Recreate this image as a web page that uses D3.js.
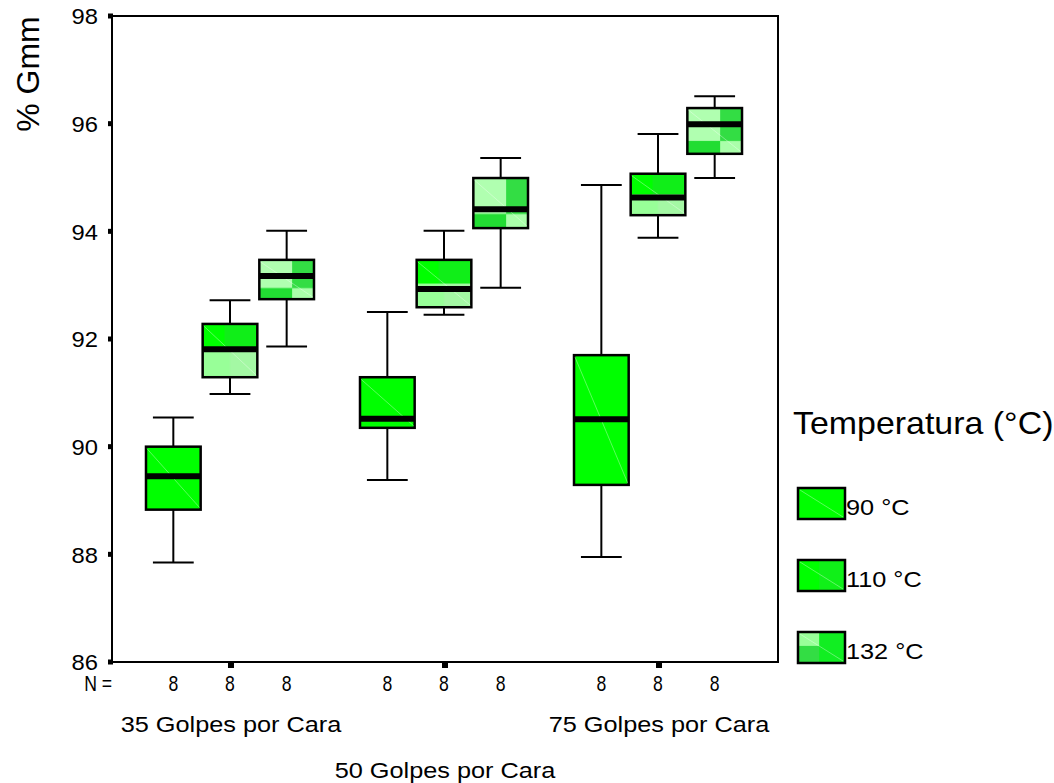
<!DOCTYPE html>
<html>
<head>
<meta charset="utf-8">
<script src="https://cdn.jsdelivr.net/npm/d3@7"></script>
<style>
  body { margin: 0; background: #fff; }
  svg { font-family: "Liberation Sans", Arial, sans-serif; }
</style>
</head>
<body>
<svg id="chart" width="1054" height="783"></svg>
<script>
// data
const groups = ["35 Golpes por Cara", "50 Golpes por Cara", "75 Golpes por Cara"];
const temps = ["90 °C", "110 °C", "132 °C"];
const yTicks = [86, 88, 90, 92, 94, 96, 98];
const counts = [8, 8, 8, 8, 8, 8, 8, 8, 8];

// [whiskerLow, q1, median, q3, whiskerHigh] per group, per temperature
const stats35 = [
    [87.85, 88.83, 89.45, 90.00, 90.54],
    [90.98, 91.29, 91.81, 92.28, 92.72],
    [91.86, 92.74, 93.17, 93.47, 94.01]
];
const stats50 = [
    [89.38, 90.35, 90.52, 91.29, 92.50],
    [92.45, 92.59, 92.93, 93.47, 94.01],
    [92.95, 94.06, 94.41, 94.99, 95.36]
];
const stats75 = [
    [87.95, 89.29, 90.51, 91.70, 94.86],
    [93.88, 94.30, 94.63, 95.07, 95.81],
    [94.99, 95.44, 95.99, 96.29, 96.51]
];

const boxes = [];
[stats35, stats50, stats75].forEach((g, gi) => {
    g.forEach((s, ti) => {
        boxes.push({ group: groups[gi], temp: temps[ti], ti, lo: s[0], q1: s[1], med: s[2], q3: s[3], hi: s[4] });
    });
});

const svg = d3.select("#chart");
const plot = { left: 112, right: 778, top: 16, bottom: 662 };

const y = d3.scaleLinear().domain([86, 98]).range([plot.bottom, plot.top]);
const x = d3.scalePoint().domain(groups).range([plot.left, plot.right]).padding(0.556);
const xInner = d3.scaleBand().domain(temps).range([-86, 84]).padding(0);
const bw = xInner.bandwidth();

// text in the original is stretched sideways
function stretched(sel, px, py, sx) {
    return sel.append("text")
        .attr("transform", `translate(${px},${py}) scale(${sx},1)`);
}

// fills
const defs = svg.append("defs");
const patterns = [
    { id: "p90", rects: [[0, 0, 1, 1, "#00ff00"]] },
    { id: "p110", rects: [[0, 0, 1, 1, "#00ff00"], [0.4, 0, 0.6, 0.5, "#10ee18"], [0, 0.5, 1, 0.5, "#98ff98"], [0.5, 0.5, 0.5, 0.5, "#a4f8a4"]] },
    { id: "p132", rects: [[0, 0, 1, 1, "#33dd44"], [0, 0, 0.6, 0.72, "#b0ffb0"], [0.6, 0.72, 0.4, 0.28, "#aaffaa"], [0, 0.72, 0.6, 0.28, "#22dd33"]] },
    { id: "l110", rects: [[0, 0, 1, 1, "#00ff00"], [0.45, 0, 0.55, 1, "#10f018"]] },
    { id: "l132", rects: [[0, 0, 1, 1, "#11ee22"], [0, 0, 0.45, 0.45, "#99ff99"], [0, 0.45, 0.45, 0.55, "#33dd44"]] }
];
patterns.forEach(p => {
    const pat = defs.append("pattern")
        .attr("id", p.id)
        .attr("patternUnits", "objectBoundingBox")
        .attr("patternContentUnits", "objectBoundingBox")
        .attr("width", 1).attr("height", 1);
    p.rects.forEach(r => {
        pat.append("rect").attr("x", r[0]).attr("y", r[1]).attr("width", r[2]).attr("height", r[3]).attr("fill", r[4]);
    });
});
const boxFill = ["url(#p90)", "url(#p110)", "url(#p132)"];
const legendFill = ["url(#p90)", "url(#l110)", "url(#l132)"];

// frame
svg.append("rect")
    .attr("x", plot.left).attr("y", plot.top)
    .attr("width", plot.right - plot.left).attr("height", plot.bottom - plot.top)
    .attr("fill", "none").attr("stroke", "#000").attr("stroke-width", 2);

// y axis
const yAxis = svg.append("g")
    .attr("transform", `translate(${plot.left},0)`)
    .call(d3.axisLeft(y).tickValues(yTicks).tickSize(0).tickPadding(13));
yAxis.select(".domain").remove();
yAxis.selectAll("text")
    .attr("font-size", 22).attr("fill", "#000")
    .attr("font-family", "Liberation Sans, Arial, sans-serif")
    .attr("dy", "0.36em")
    .attr("transform", "scale(1.08,1)");
svg.selectAll(".ytick").data(yTicks).enter().append("rect")
    .attr("x", plot.left - 4).attr("y", d => y(d) - 2.5)
    .attr("width", 5).attr("height", 5).attr("fill", "#000");

svg.append("text")
    .attr("transform", `translate(39,${74}) rotate(-90)`)
    .attr("text-anchor", "middle")
    .attr("font-size", 32)
    .text("% Gmm");

// x axis ticks (squares)
svg.selectAll(".xtick").data(groups).enter().append("rect")
    .attr("x", d => x(d) - 3).attr("y", plot.bottom)
    .attr("width", 6).attr("height", 6).attr("fill", "#000");

// boxes
const bx = d => x(d.group) + xInner(d.temp);
const cx = d => bx(d) + bw / 2;
const capW = bw * 0.72;

const g = svg.append("g");
const box = g.selectAll(".box").data(boxes).enter().append("g").attr("class", "box");

box.append("line")
    .attr("x1", cx).attr("x2", cx)
    .attr("y1", d => y(d.hi)).attr("y2", d => y(d.q3))
    .attr("stroke", "#000").attr("stroke-width", 2);
box.append("line")
    .attr("x1", cx).attr("x2", cx)
    .attr("y1", d => y(d.q1)).attr("y2", d => y(d.lo))
    .attr("stroke", "#000").attr("stroke-width", 2);
box.append("line")
    .attr("x1", d => cx(d) - capW / 2).attr("x2", d => cx(d) + capW / 2)
    .attr("y1", d => y(d.hi)).attr("y2", d => y(d.hi))
    .attr("stroke", "#000").attr("stroke-width", 2);
box.append("line")
    .attr("x1", d => cx(d) - capW / 2).attr("x2", d => cx(d) + capW / 2)
    .attr("y1", d => y(d.lo)).attr("y2", d => y(d.lo))
    .attr("stroke", "#000").attr("stroke-width", 2);
box.append("rect")
    .attr("x", d => bx(d) + 1).attr("y", d => y(d.q3))
    .attr("width", bw - 2).attr("height", d => y(d.q1) - y(d.q3))
    .attr("fill", d => boxFill[d.ti])
    .attr("stroke", "#000").attr("stroke-width", 2.5);
box.append("line")
    .attr("x1", d => bx(d) + 2).attr("x2", d => bx(d) + bw - 2)
    .attr("y1", d => y(d.q3) + 2).attr("y2", d => y(d.q1) - 2)
    .attr("stroke", "#ffffff").attr("stroke-opacity", 0.35).attr("stroke-width", 1);
box.append("line")
    .attr("x1", d => bx(d) + 1).attr("x2", d => bx(d) + bw - 1)
    .attr("y1", d => y(d.med)).attr("y2", d => y(d.med))
    .attr("stroke", "#000").attr("stroke-width", 6);

// N counts (tall, narrow in the original)
stretched(svg, 112, 691, 0.8)
    .attr("text-anchor", "end")
    .attr("font-size", 22)
    .text("N =");
boxes.forEach((d, i) => {
    stretched(svg, cx(d), 691, 0.8)
        .attr("text-anchor", "middle")
        .attr("font-size", 22)
        .text(counts[i]);
});

// group labels, staggered
groups.forEach((d, i) => {
    stretched(svg, x(d), i === 1 ? 778 : 732, 1.15)
        .attr("text-anchor", "middle")
        .attr("font-size", 22)
        .text(d);
});

// legend
stretched(svg, 793, 434, 1.06)
    .attr("font-size", 32)
    .text("Temperatura (°C)");
const leg = svg.selectAll(".leg").data(temps).enter().append("g")
    .attr("transform", (d, i) => `translate(798,${488 + i * 72})`);
leg.append("rect")
    .attr("width", 47).attr("height", 31)
    .attr("fill", (d, i) => legendFill[i])
    .attr("stroke", "#000").attr("stroke-width", 2.5);
leg.append("line")
    .attr("x1", 2).attr("y1", 2).attr("x2", 45).attr("y2", 29)
    .attr("stroke", "#fff").attr("stroke-opacity", 0.35).attr("stroke-width", 1);
leg.each(function (d) {
    stretched(d3.select(this), 48, 27, 1.15)
        .attr("font-size", 22)
        .text(d);
});
</script>
</body>
</html>
